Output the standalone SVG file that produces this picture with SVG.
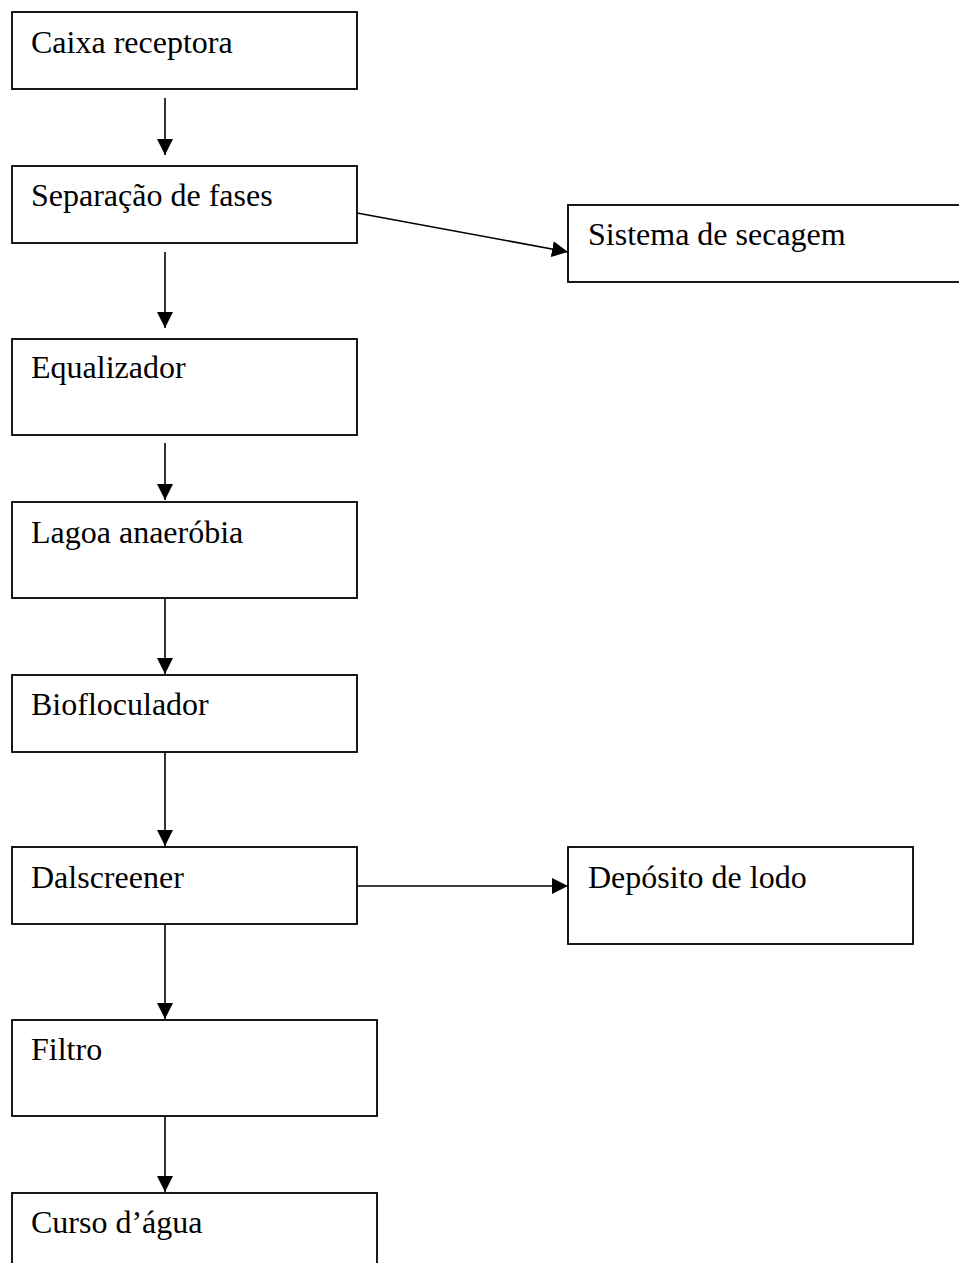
<svg xmlns="http://www.w3.org/2000/svg" width="959" height="1263" viewBox="0 0 959 1263">
<style>
.box{fill:#fff;stroke:#000;stroke-width:1.8}
.lbl{font-family:"Liberation Serif","Times New Roman",serif;font-size:32px;fill:#000}
.con{stroke:#000;stroke-width:1.6;fill:none;marker-end:url(#ah)}
</style>
<defs>
<marker id="ah" markerUnits="userSpaceOnUse" markerWidth="16" markerHeight="16" viewBox="0 0 16 16" refX="16" refY="8" orient="auto">
<path d="M0,0 L16,8 L0,16 z" fill="#000"/>
</marker>
</defs>
<rect width="959" height="1263" fill="#fff"/>
<g id="n1"><rect class="box" x="12" y="12" width="345" height="77"/><text class="lbl" x="31" y="53">Caixa receptora</text></g>
<g id="n2"><rect class="box" x="12" y="166" width="345" height="77"/><text class="lbl" x="31" y="206">Separação de fases</text></g>
<g id="n3"><rect class="box" x="568" y="205" width="400" height="77"/><text class="lbl" x="588" y="245">Sistema de secagem</text></g>
<g id="n4"><rect class="box" x="12" y="339" width="345" height="96"/><text class="lbl" x="31" y="378">Equalizador</text></g>
<g id="n5"><rect class="box" x="12" y="502" width="345" height="96"/><text class="lbl" x="31" y="543">Lagoa anaeróbia</text></g>
<g id="n6"><rect class="box" x="12" y="675" width="345" height="77"/><text class="lbl" x="31" y="715">Biofloculador</text></g>
<g id="n7"><rect class="box" x="12" y="847" width="345" height="77"/><text class="lbl" x="31" y="888">Dalscreener</text></g>
<g id="n8"><rect class="box" x="568" y="847" width="345" height="97"/><text class="lbl" x="588" y="888">Depósito de lodo</text></g>
<g id="n9"><rect class="box" x="12" y="1020" width="365" height="96"/><text class="lbl" x="31" y="1060">Filtro</text></g>
<g id="n10"><rect class="box" x="12" y="1193" width="365" height="100"/><text class="lbl" x="31" y="1233">Curso d’água</text></g>
<g id="connectors">
<line class="con" x1="165" y1="98" x2="165" y2="155"/>
<line class="con" x1="165" y1="252" x2="165" y2="328"/>
<line class="con" x1="357" y1="213" x2="568" y2="252"/>
<line class="con" x1="165" y1="443" x2="165" y2="500"/>
<line class="con" x1="165" y1="598" x2="165" y2="674"/>
<line class="con" x1="165" y1="752" x2="165" y2="846"/>
<line class="con" x1="357" y1="886" x2="568" y2="886"/>
<line class="con" x1="165" y1="924" x2="165" y2="1019"/>
<line class="con" x1="165" y1="1116" x2="165" y2="1192"/>
</g>
</svg>
